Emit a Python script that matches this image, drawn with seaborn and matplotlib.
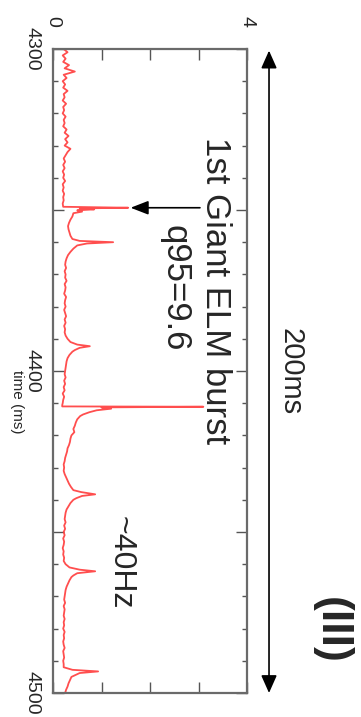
import matplotlib
matplotlib.use("Agg")
import matplotlib.pyplot as plt
from matplotlib.ticker import MultipleLocator, FixedLocator
import seaborn as sns
import pandas as pd

# ---- data ----
time_ms = [
    4300, 4301, 4302, 4303, 4304, 4305, 4306, 4307, 4308, 4309,
    4310, 4311, 4312, 4313, 4314, 4315, 4316, 4317, 4318, 4319,
    4320, 4321, 4322, 4323, 4324, 4325, 4326, 4327, 4328, 4329,
    4330, 4331, 4332, 4333, 4334, 4335, 4336, 4337, 4338, 4339,
    4340, 4341, 4342, 4343, 4344, 4345, 4346, 4347, 4348, 4349,
    4349.3, 4349.5, 4349.8, 4350.1, 4350.5, 4351, 4352, 4353, 4354, 4355,
    4356, 4357, 4358, 4359, 4359.6, 4360, 4360.4, 4361, 4362, 4363,
    4364, 4365, 4366, 4367, 4368, 4369, 4370, 4371, 4372, 4373,
    4374, 4375, 4376, 4377, 4378, 4379, 4380, 4381, 4382, 4383,
    4384, 4385, 4386, 4387, 4388, 4389, 4390, 4391, 4391.8, 4392.3,
    4392.8, 4393.5, 4394, 4395, 4396, 4397, 4398, 4399, 4400, 4401,
    4402, 4403, 4404, 4405, 4406, 4407, 4408, 4409, 4410, 4410.6,
    4411, 4411.1, 4411.3, 4411.7, 4412.2, 4412.8, 4413.5, 4414, 4415, 4416,
    4417, 4418, 4419, 4420, 4421, 4422, 4423, 4424, 4425, 4426,
    4427, 4428, 4429, 4430, 4431, 4432, 4433, 4434, 4435, 4436,
    4437, 4437.6, 4438.3, 4438.8, 4439.5, 4440, 4441, 4442, 4443, 4444,
    4445, 4446, 4447, 4448, 4449, 4450, 4451, 4452, 4453, 4454,
    4455, 4456, 4457, 4458, 4459, 4460, 4461, 4461.7, 4462.2, 4462.8,
    4463.5, 4464, 4465, 4466, 4467, 4468, 4469, 4470, 4471, 4472,
    4473, 4474, 4475, 4476, 4477, 4478, 4479, 4480, 4481, 4482,
    4483, 4484, 4485, 4486, 4487, 4488, 4489, 4490, 4491, 4492,
    4492.8, 4493.3, 4493.8, 4494.5, 4495, 4496, 4497, 4498, 4499, 4500,
]
signal = [
    0.22, 0.30, 0.20, 0.26, 0.21, 0.33, 0.24, 0.45, 0.22, 0.28,
    0.20, 0.25, 0.21, 0.30, 0.22, 0.24, 0.20, 0.27, 0.21, 0.23,
    0.20, 0.26, 0.22, 0.24, 0.21, 0.28, 0.24, 0.32, 0.25, 0.30,
    0.24, 0.36, 0.30, 0.26, 0.22, 0.25, 0.21, 0.24, 0.20, 0.23,
    0.21, 0.25, 0.20, 0.22, 0.20, 0.23, 0.21, 0.22, 0.20, 0.21,
    1.55, 0.55, 0.85, 0.50, 0.60, 0.42, 0.40, 0.36, 0.33, 0.31,
    0.32, 0.34, 0.36, 0.40, 0.55, 1.24, 0.70, 0.50, 0.42, 0.36,
    0.31, 0.28, 0.26, 0.25, 0.27, 0.24, 0.26, 0.25, 0.28, 0.24,
    0.26, 0.25, 0.23, 0.27, 0.25, 0.24, 0.26, 0.23, 0.25, 0.27,
    0.24, 0.26, 0.23, 0.25, 0.24, 0.26, 0.30, 0.36, 0.50, 0.76,
    0.55, 0.45, 0.40, 0.34, 0.30, 0.28, 0.27, 0.26, 0.25, 0.24,
    0.26, 0.23, 0.25, 0.22, 0.24, 0.20, 0.23, 0.21, 0.20, 0.19,
    0.19, 3.10, 1.00, 1.20, 0.90, 0.75, 0.62, 0.56, 0.50, 0.47,
    0.45, 0.42, 0.44, 0.38, 0.36, 0.35, 0.33, 0.30, 0.29, 0.27,
    0.25, 0.24, 0.22, 0.23, 0.22, 0.24, 0.27, 0.30, 0.33, 0.37,
    0.42, 0.58, 0.87, 0.60, 0.48, 0.42, 0.36, 0.32, 0.28, 0.26,
    0.25, 0.24, 0.26, 0.23, 0.25, 0.22, 0.24, 0.21, 0.23, 0.22,
    0.20, 0.22, 0.21, 0.23, 0.22, 0.26, 0.34, 0.55, 0.87, 0.50,
    0.42, 0.38, 0.34, 0.31, 0.28, 0.26, 0.25, 0.24, 0.23, 0.25,
    0.22, 0.24, 0.23, 0.22, 0.24, 0.22, 0.23, 0.21, 0.24, 0.22,
    0.23, 0.21, 0.22, 0.24, 0.21, 0.22, 0.23, 0.21, 0.22, 0.22,
    0.40, 0.93, 0.55, 0.45, 0.38, 0.35, 0.32, 0.30, 0.27, 0.25,
]
value_ticks = [0, 1, 2, 3, 4]
value_ticklabels = ["0", "", "", "", "4"]
time_ticks = [4300, 4350, 4400, 4450, 4500]
time_ticklabels = ["4300", "", "4400", "", "4500"]
elm_time = 4349.3
elm_peak = 1.6

df = pd.DataFrame({"time": time_ms, "signal": signal})

sns.set_theme(style="white")
plt.rcParams["font.family"] = ["Liberation Sans", "DejaVu Sans"]

fig = plt.figure(figsize=(3.61, 7.17), dpi=100)
ax = fig.add_axes([53 / 361, 1 - 693 / 717, 194 / 361, 644 / 717])

sns.lineplot(data=df, x="signal", y="time", sort=False, estimator=None,
             color="#ff3b3b", lw=1.3, alpha=0.9, ax=ax)

ax.set_xlim(0, 4)
ax.set_ylim(4500, 4300)
ax.set_xlabel("")
ax.set_ylabel("")

for s in ax.spines.values():
    s.set_color("#6a6a6a")
    s.set_linewidth(1.6)

ax.xaxis.set_major_locator(FixedLocator(value_ticks))
ax.set_xticklabels(value_ticklabels, rotation=270, ha="center", va="bottom")
ax.tick_params(axis="x", which="major", direction="in", top=True, bottom=True,
               labeltop=True, labelbottom=False, length=8, width=1,
               color="#555555", pad=16, labelsize=14)

ax.yaxis.set_major_locator(FixedLocator(time_ticks))
ax.set_yticklabels(time_ticklabels, rotation=270, va="center", ha="right")
ax.yaxis.set_minor_locator(MultipleLocator(10))
ax.tick_params(axis="y", which="major", direction="in", left=True, right=True,
               length=8, width=1, color="#555555", pad=9, labelsize=14)
ax.tick_params(axis="y", which="minor", direction="in", left=True, right=True,
               length=3.5, width=1, color="#555555")

fig.text(17 / 361, 1 - 402 / 717, "time (ms)", rotation=270,
         ha="center", va="center", fontsize=11)

# annotations
ax.annotate("", xy=(elm_peak, elm_time), xytext=(3.03, elm_time),
            xycoords="data", textcoords="data", annotation_clip=False,
            arrowprops=dict(arrowstyle="-|>,head_length=0.9,head_width=0.35",
                            color="black", lw=1.2, shrinkA=0, shrinkB=0))
ax.annotate("", xy=(4.454, 4300.5), xytext=(4.454, 4500),
            xycoords="data", textcoords="data", annotation_clip=False,
            arrowprops=dict(arrowstyle="<|-|>,head_length=0.9,head_width=0.4",
                            color="black", lw=1.2, shrinkA=0, shrinkB=0))

fig.text(216 / 361, 1 - 291 / 717, "1st Giant ELM burst", rotation=270,
         ha="center", va="center", fontsize=25)
fig.text(175 / 361, 1 - 288 / 717, "q95=9.6", rotation=270,
         ha="center", va="center", fontsize=25)
fig.text(290 / 361, 1 - 372 / 717, "200ms", rotation=270,
         ha="center", va="center", fontsize=21)
fig.text(121 / 361, 1 - 563 / 717, "~40Hz", rotation=270,
         ha="center", va="center", fontsize=23)
fig.text(331 / 361, 1 - 630 / 717, "(III)", rotation=270,
         ha="center", va="center", fontsize=32, fontweight="bold")

fig.savefig("out.png", dpi=100)
